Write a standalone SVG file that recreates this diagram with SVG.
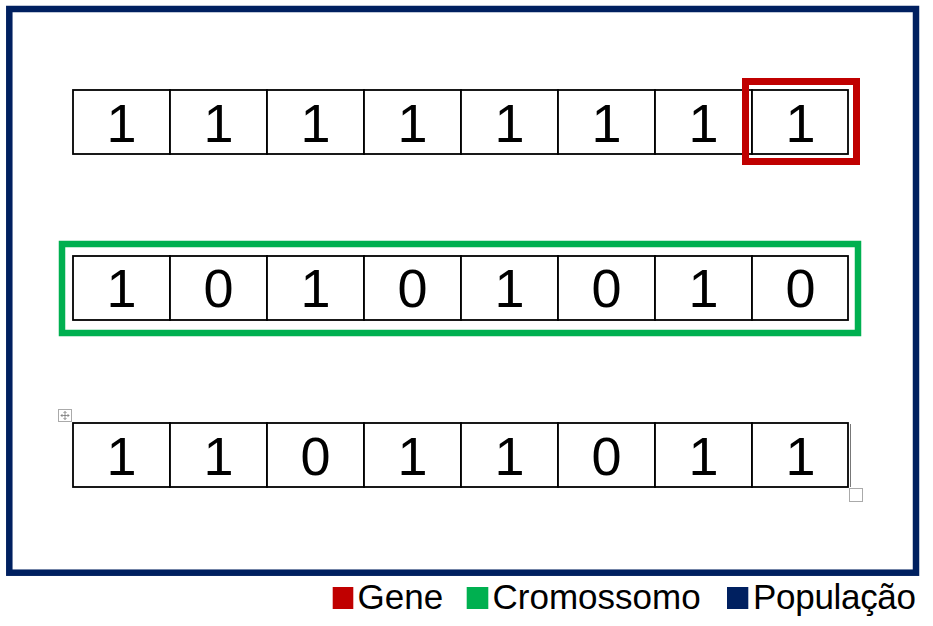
<svg xmlns="http://www.w3.org/2000/svg" width="933" height="626" viewBox="0 0 933 626">
<style>
.cell{fill:#fff;stroke:#000;stroke-width:1.8}
.d{font-family:"Liberation Sans",Arial,sans-serif;font-size:54px;text-anchor:middle;fill:#000}
.lg{font-family:"Liberation Sans",Arial,sans-serif;font-size:35px;fill:#000}
.handle{fill:#fff;stroke:#aaa;stroke-width:1}
</style>
<rect width="933" height="626" fill="#fff"/>
<g id="populacao">
<rect x="9.3" y="9" width="906.7" height="563.7" fill="none" stroke="#002060" stroke-width="6.5"/>
</g>
<g id="row1">
<rect class="cell" x="73" y="90" width="97" height="64"/>
<rect class="cell" x="170" y="90" width="97" height="64"/>
<rect class="cell" x="267" y="90" width="97" height="64"/>
<rect class="cell" x="364" y="90" width="97" height="64"/>
<rect class="cell" x="461" y="90" width="97" height="64"/>
<rect class="cell" x="558" y="90" width="97" height="64"/>
<rect class="cell" x="655" y="90" width="97" height="64"/>
<rect class="cell" x="752" y="90" width="96" height="64"/>
<text class="d" x="121.5" y="142">1</text>
<text class="d" x="218.5" y="142">1</text>
<text class="d" x="315.5" y="142">1</text>
<text class="d" x="412.5" y="142">1</text>
<text class="d" x="509.5" y="142">1</text>
<text class="d" x="606.5" y="142">1</text>
<text class="d" x="703.5" y="142">1</text>
<text class="d" x="800.5" y="142">1</text>
</g>
<g id="gene">
<rect x="745.5" y="81.5" width="111" height="80" fill="none" stroke="#C00000" stroke-width="7"/>
</g>
<g id="row2">
<rect class="cell" x="73" y="256" width="97" height="64"/>
<rect class="cell" x="170" y="256" width="97" height="64"/>
<rect class="cell" x="267" y="256" width="97" height="64"/>
<rect class="cell" x="364" y="256" width="97" height="64"/>
<rect class="cell" x="461" y="256" width="97" height="64"/>
<rect class="cell" x="558" y="256" width="97" height="64"/>
<rect class="cell" x="655" y="256" width="97" height="64"/>
<rect class="cell" x="752" y="256" width="96" height="64"/>
<text class="d" x="121.5" y="307">1</text>
<text class="d" x="218.5" y="307">0</text>
<text class="d" x="315.5" y="307">1</text>
<text class="d" x="412.5" y="307">0</text>
<text class="d" x="509.5" y="307">1</text>
<text class="d" x="606.5" y="307">0</text>
<text class="d" x="703.5" y="307">1</text>
<text class="d" x="800.5" y="307">0</text>
</g>
<g id="cromossomo">
<rect x="62" y="244" width="796" height="89" fill="none" stroke="#00B050" stroke-width="6.5"/>
</g>
<g id="row3">
<rect class="cell" x="73" y="423" width="97" height="64"/>
<rect class="cell" x="170" y="423" width="97" height="64"/>
<rect class="cell" x="267" y="423" width="97" height="64"/>
<rect class="cell" x="364" y="423" width="97" height="64"/>
<rect class="cell" x="461" y="423" width="97" height="64"/>
<rect class="cell" x="558" y="423" width="97" height="64"/>
<rect class="cell" x="655" y="423" width="97" height="64"/>
<rect class="cell" x="752" y="423" width="96" height="64"/>
<line x1="850.5" y1="424" x2="850.5" y2="487" stroke="#555" stroke-width="0.8"/>
<text class="d" x="121.5" y="475">1</text>
<text class="d" x="218.5" y="475">1</text>
<text class="d" x="315.5" y="475">0</text>
<text class="d" x="412.5" y="475">1</text>
<text class="d" x="509.5" y="475">1</text>
<text class="d" x="606.5" y="475">0</text>
<text class="d" x="703.5" y="475">1</text>
<text class="d" x="800.5" y="475">1</text>
<rect class="handle" x="58.5" y="409.5" width="13" height="12"/>
<path d="M65 411.5v8M61 415.5h8M63.5 413l1.5-1.5 1.5 1.5M63.5 418l1.5 1.5 1.5-1.5M62.5 414l-1.5 1.5 1.5 1.5M67.5 414l1.5 1.5-1.5 1.5" fill="none" stroke="#666" stroke-width="0.7"/>
<rect class="handle" x="849.5" y="488.5" width="13" height="13"/>
</g>
<g id="legend">
<rect x="332.7" y="587" width="20.6" height="22" fill="#C00000"/>
<text class="lg" x="357.5" y="609">Gene</text>
<rect x="466.7" y="587" width="21.6" height="22" fill="#00B050"/>
<text class="lg" x="492.5" y="609">Cromossomo</text>
<rect x="727" y="587" width="21.3" height="22" fill="#002060"/>
<text class="lg" x="753" y="609" textLength="163">População</text>
</g>
</svg>
